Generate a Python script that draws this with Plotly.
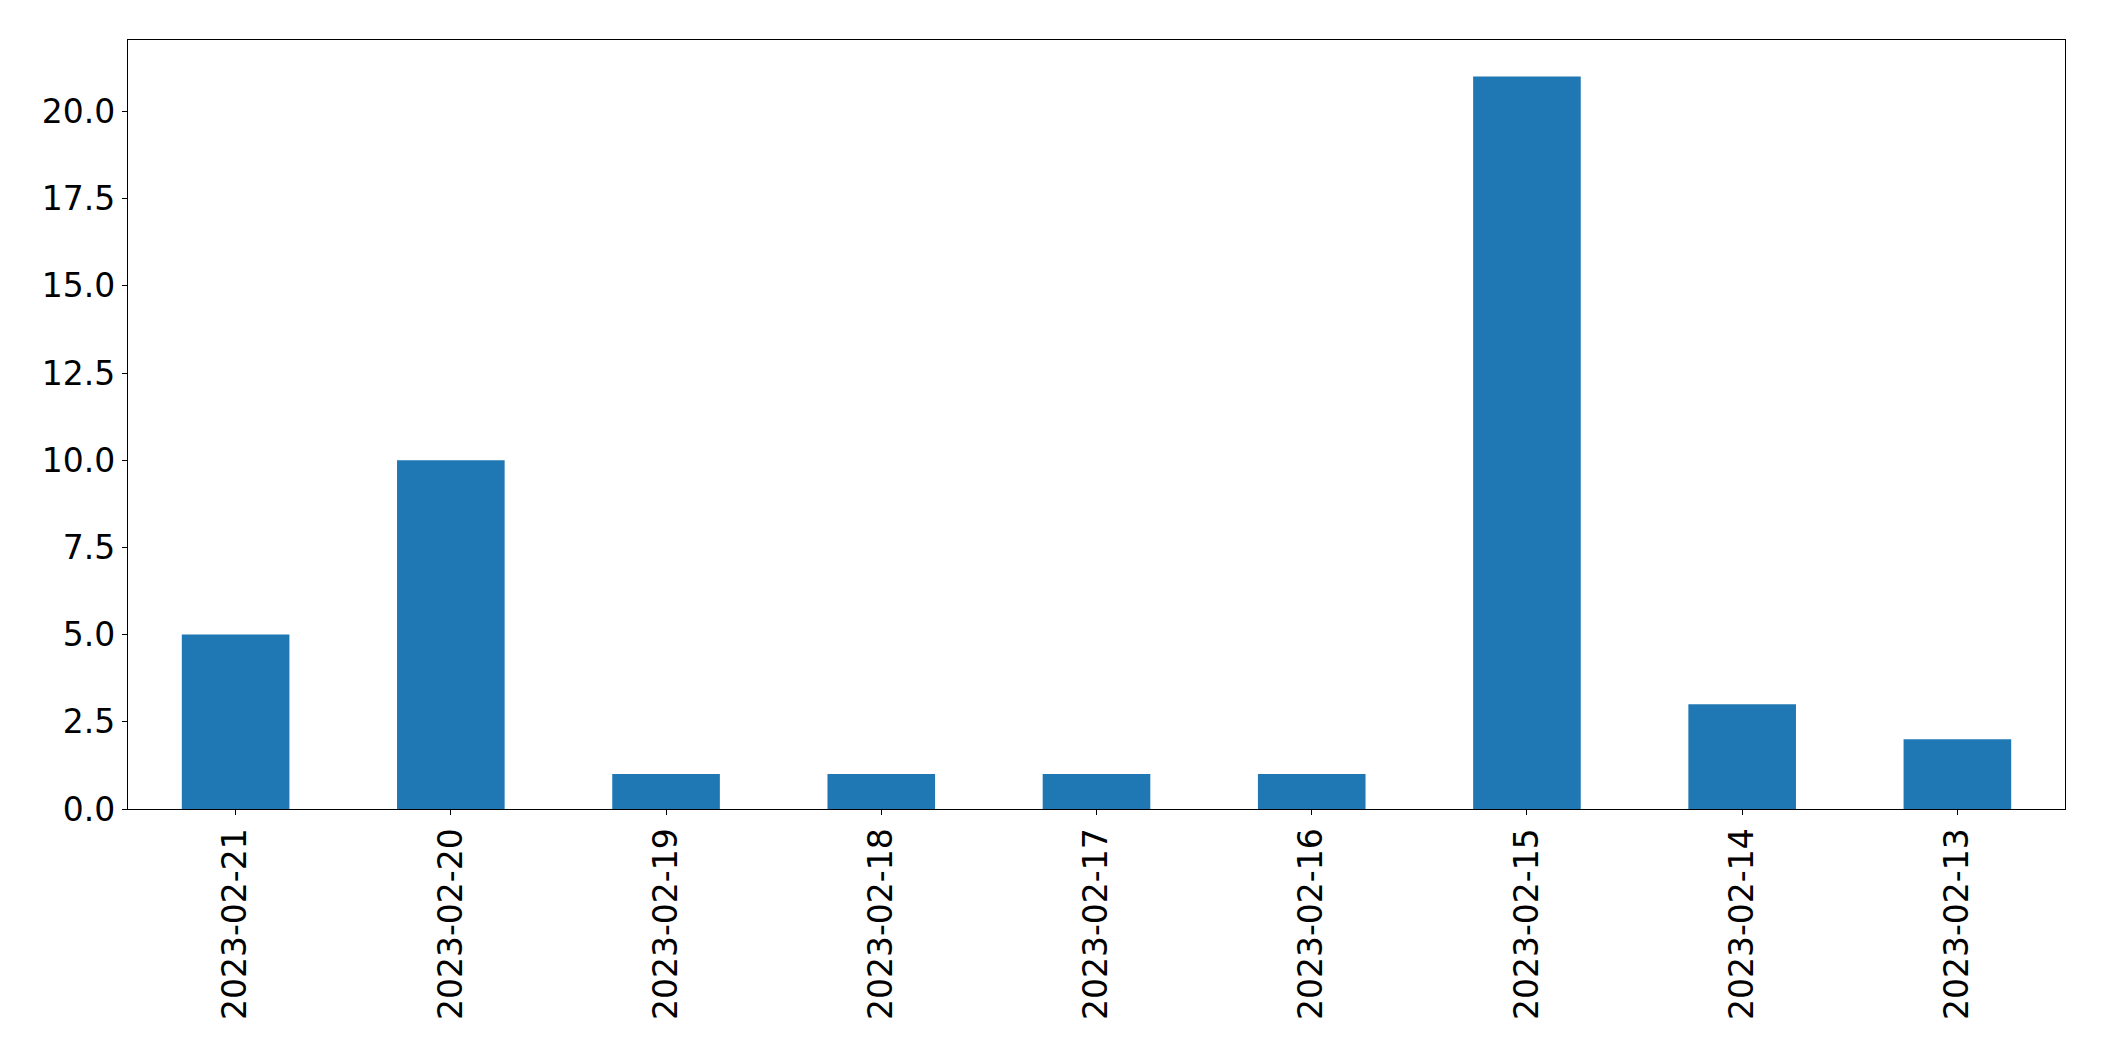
import plotly.graph_objects as go

dates = ["2023-02-21", "2023-02-20", "2023-02-19", "2023-02-18", "2023-02-17",
         "2023-02-16", "2023-02-15", "2023-02-14", "2023-02-13"]
counts = [5, 10, 1, 1, 1, 1, 21, 3, 2]
y_ticks = [0, 2.5, 5, 7.5, 10, 12.5, 15, 17.5, 20]

fig = go.Figure(go.Bar(x=dates, y=counts, marker=dict(color="#1f77b4", line=dict(width=0)), width=0.5))

fig.update_layout(
    width=2104, height=1061,
    margin=dict(l=119.5, r=46.5, t=31.5, b=260, pad=0),
    plot_bgcolor="white", paper_bgcolor="white",
    font=dict(family="DejaVu Sans", size=33, color="black"),
    showlegend=False,
)
fig.update_xaxes(
    type="category", range=[-0.5, len(dates) - 0.5],
    tickangle=-90, ticks="outside", ticklen=5, tickwidth=1.1, tickcolor="black",
    showline=True, linecolor="black", linewidth=1.1, mirror=True,
    showgrid=False, zeroline=False,
)
fig.update_yaxes(
    range=[0, 22.05], tickvals=y_ticks, ticktext=[f"{v:.1f}" for v in y_ticks],
    ticks="outside", ticklen=5, tickwidth=1.1, tickcolor="black",
    showline=True, linecolor="black", linewidth=1.1, mirror=True,
    showgrid=False, zeroline=False,
)

fig.write_html("out.html")
